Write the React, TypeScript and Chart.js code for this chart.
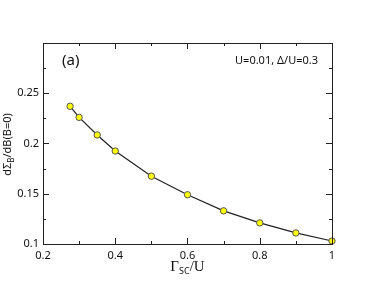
import React, { useEffect, useRef } from "react";
import { Chart, registerables } from "chart.js";

Chart.register(...registerables);

const gammaSC = [0.275, 0.3, 0.35, 0.4, 0.5, 0.6, 0.7, 0.8, 0.9, 1.0];
const dSigma = [0.237, 0.226, 0.2085, 0.1925, 0.1675, 0.149, 0.133, 0.121, 0.111, 0.103];
const xMajorTicks = [0.2, 0.4, 0.6, 0.8, 1];
const yMajorTicks = [0.1, 0.15, 0.2, 0.25];
const panelLabel = "(a)";
const paramText = "U=0.01, \u0394/U=0.3";

const W = 374;
const H = 289;
const SANS = "'Noto Sans', 'DejaVu Sans', sans-serif";
const SERIF = "'Liberation Serif', 'DejaVu Serif', serif";

const isMajor = (v: number, list: number[]) => list.some((m) => Math.abs(m - v) < 1e-6);

const decor = {
  id: "decor",
  afterDraw(chart: any) {
    const { ctx, chartArea } = chart;
    const { left, right, top, bottom } = chartArea;
    const xs = chart.scales.x;
    const ys = chart.scales.y;
    ctx.save();
    ctx.strokeStyle = "#222";
    ctx.lineWidth = 1;
    // frame
    ctx.strokeRect(Math.round(left) + 0.5, Math.round(top) + 0.5, Math.round(right - left), Math.round(bottom - top));
    // ticks
    ctx.beginPath();
    xs.ticks.forEach((t: any) => {
      const px = Math.round(xs.getPixelForValue(t.value)) + 0.5;
      const len = isMajor(t.value, xMajorTicks) ? 6 : 3;
      ctx.moveTo(px, bottom);
      ctx.lineTo(px, bottom - len);
      ctx.moveTo(px, top);
      ctx.lineTo(px, top + len);
    });
    ys.ticks.forEach((t: any) => {
      const py = Math.round(ys.getPixelForValue(t.value)) + 0.5;
      const len = isMajor(t.value, yMajorTicks) ? 6 : 3;
      ctx.moveTo(left, py);
      ctx.lineTo(left + len, py);
      ctx.moveTo(right, py);
      ctx.lineTo(right - len, py);
    });
    ctx.stroke();

    ctx.fillStyle = "#111";
    ctx.textBaseline = "alphabetic";
    // panel label
    ctx.font = `15px ${SANS}`;
    ctx.textAlign = "left";
    ctx.fillText(panelLabel, left + 19, top + 22);
    // parameter text
    ctx.font = `11px ${SANS}`;
    ctx.textAlign = "right";
    ctx.fillText(paramText, right - 14, top + 21);

    // x title: Γ_SC/U
    ctx.textAlign = "left";
    const cx = (left + right) / 2;
    const base = bottom + 27;
    const mainFont = `15px ${SERIF}`;
    const subFont = `9px ${SANS}`;
    ctx.font = mainFont;
    const wG = ctx.measureText("\u0393").width;
    const wU = ctx.measureText("/U").width;
    ctx.font = subFont;
    const wS = ctx.measureText("SC").width;
    let x0 = cx - (wG + wS + wU) / 2;
    ctx.font = mainFont;
    ctx.fillText("\u0393", x0, base);
    ctx.font = subFont;
    ctx.fillText("SC", x0 + wG, base + 3);
    ctx.font = mainFont;
    ctx.fillText("/U", x0 + wG + wS, base);

    // y title: dΣ_B/dB(B=0)
    ctx.save();
    ctx.translate(11, (top + bottom) / 2 + 1);
    ctx.rotate(-Math.PI / 2);
    const yMain = `11px ${SANS}`;
    const ySub = `8px ${SANS}`;
    ctx.font = yMain;
    const w1 = ctx.measureText("d\u03a3").width;
    const w3 = ctx.measureText("/dB(B=0)").width;
    ctx.font = ySub;
    const w2 = ctx.measureText("B").width;
    let y0 = -(w1 + w2 + w3) / 2;
    ctx.font = yMain;
    ctx.fillText("d\u03a3", y0, 0);
    ctx.font = ySub;
    ctx.fillText("B", y0 + w1, 3);
    ctx.font = yMain;
    ctx.fillText("/dB(B=0)", y0 + w1 + w2, 0);
    ctx.restore();

    ctx.restore();
  },
};

export default function App() {
  const ref = useRef<HTMLCanvasElement | null>(null);
  useEffect(() => {
    document.body.style.margin = "0";
    const canvas = ref.current!;
    const chart = new Chart(canvas, {
      type: "scatter",
      data: {
        datasets: [
          {
            data: gammaSC.map((x, i) => ({ x, y: dSigma[i] })),
            showLine: true,
            borderColor: "#222",
            borderWidth: 1.2,
            tension: 0,
            pointBackgroundColor: "#ffff00",
            pointBorderColor: "#555",
            pointBorderWidth: 1,
            pointRadius: 3.2,
            clip: false,
          } as any,
        ],
      },
      options: {
        animation: false,
        responsive: false,
        maintainAspectRatio: false,
        events: [],
        layout: { padding: { top: 43, right: 42, left: 0, bottom: 0 } },
        plugins: { legend: { display: false }, tooltip: { enabled: false } },
        scales: {
          x: {
            type: "linear",
            min: 0.2,
            max: 1,
            grid: { display: false, drawTicks: false },
            border: { display: false },
            ticks: {
              stepSize: 0.1,
              padding: 5,
              autoSkip: false,
              maxRotation: 0,
              color: "#111",
              font: { family: SANS, size: 11 },
              callback: (v: any) => (isMajor(Number(v), xMajorTicks) ? String(Math.round(Number(v) * 10) / 10) : ""),
            },
            afterFit: (s: any) => {
              s.height = 45;
            },
          },
          y: {
            type: "linear",
            min: 0.1,
            max: 0.3,
            grid: { display: false, drawTicks: false },
            border: { display: false },
            ticks: {
              stepSize: 0.025,
              padding: 4,
              autoSkip: false,
              color: "#111",
              font: { family: SANS, size: 11 },
              callback: (v: any) => (isMajor(Number(v), yMajorTicks) ? String(Math.round(Number(v) * 100) / 100) : ""),
            },
            afterFit: (s: any) => {
              s.width = 43;
            },
          },
        },
      },
      plugins: [decor],
    });
    return () => chart.destroy();
  }, []);
  return (
    <div style={{ position: "absolute", left: 0, top: 0, width: W, height: H, background: "#fff" }}>
      <canvas ref={ref} width={W} height={H} style={{ width: W, height: H, display: "block" }} />
    </div>
  );
}
